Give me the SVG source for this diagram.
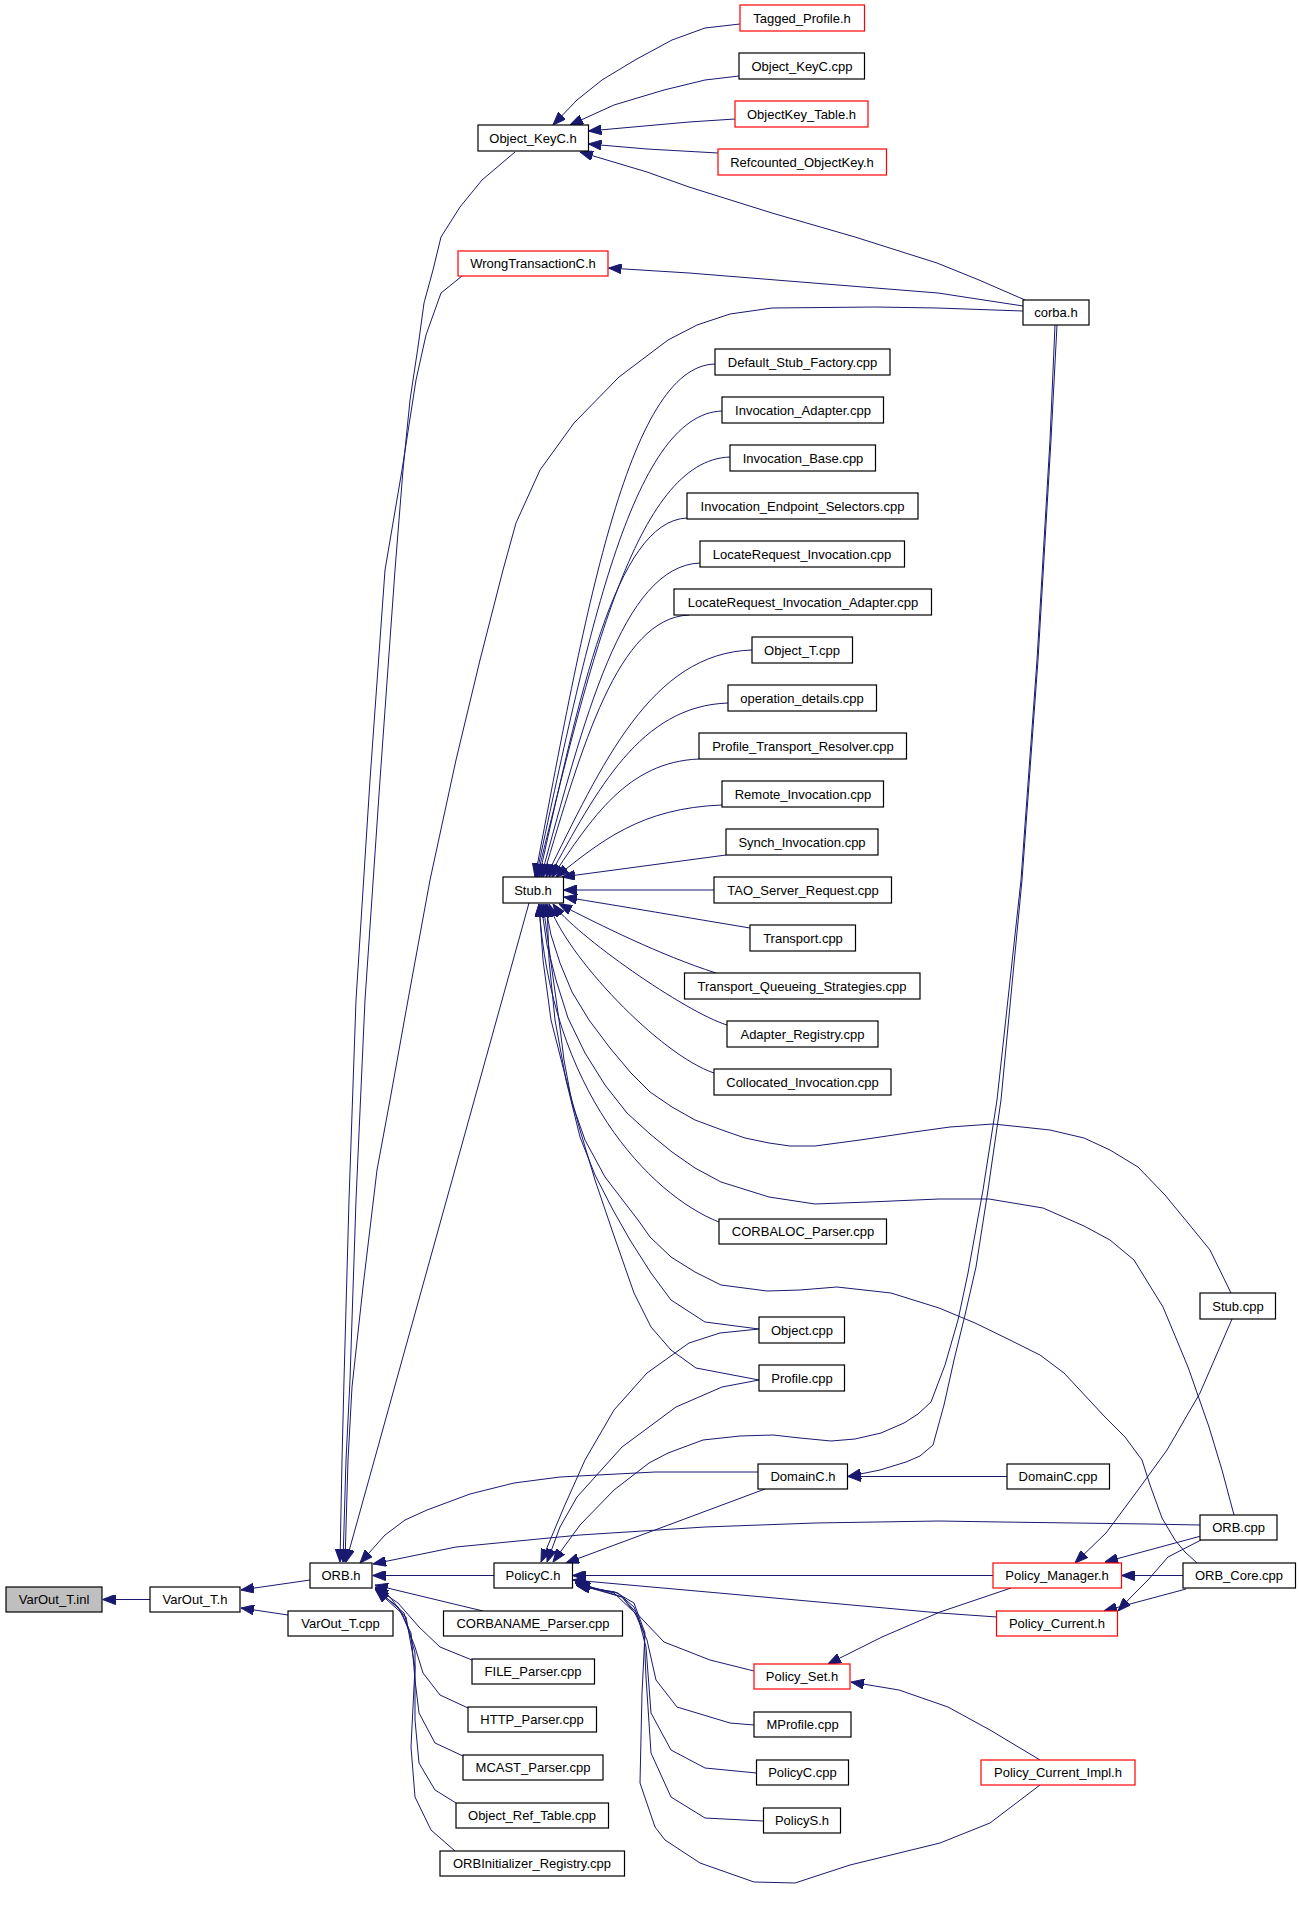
<svg xmlns="http://www.w3.org/2000/svg" width="1299" height="1921" viewBox="0 0 1299 1921">
<defs>
<marker id="a" viewBox="0 0 13 10" refX="13" refY="5" markerWidth="13" markerHeight="10" markerUnits="userSpaceOnUse" orient="auto"><path d="M0,0 L13,5 L0,10 z" fill="#191970" stroke="#191970" stroke-width="1"/></marker>
</defs>
<style>
.nd rect{fill:#fff;stroke:#000;stroke-width:1.2}
.nd.red rect{stroke:#ff0000}
.nd.cur rect{fill:#bfbfbf}
.nd text{font-family:"Liberation Sans",Arial,Helvetica,sans-serif;font-size:13px;text-anchor:middle;fill:#000}
#edges path{fill:none;stroke:#191970;stroke-width:1;stroke-linejoin:round;marker-end:url(#a)}
</style>
<rect x="0" y="0" width="1299" height="1921" fill="#fff"/>
<g id="edges">
<path d="M150,1599.5 L102.5,1599.5"/>
<path d="M310,1580 L241,1590"/>
<path d="M288,1615 L241,1608"/>
<path d="M494,1575.5 L372.5,1575.5"/>
<path d="M515,152 L482,180 L460,207 L441,237 L433,270 L424,303 L418,347 L410,400 L403,470 L395,570 L380,780 L365,1000 L356,1200 L350,1380 L346,1460 L343,1562"/>
<path d="M462,276 L441,293 L426,335 L416,380 L402,470 L385,570 L370,780 L356,1000 L349,1200 L344,1380 L342,1460 L340,1562"/>
<path d="M1023,311 L937,308 L875,307 L772,308 L730,314 L697,325 L668,340 L619,377 L574,423 L540,470 L516,523 L503,570 L480,660 L456,760 L430,880 L408,1000 L390,1100 L377,1170 L363,1287 L352,1387 L348,1460 L345,1562"/>
<path d="M529,903 L346,1562"/>
<path d="M758,1472 L655,1472 L560,1477 L514,1483 L470,1494 L427,1510 L405,1520 L385,1535 L360,1563"/>
<path d="M1200,1525 L1147,1524 L1001,1522 L939,1521 L815,1523 L705,1527 L580,1535 L456,1547 L373,1564"/>
<path d="M483,1611 L375,1585"/>
<path d="M472,1660 L440,1647 L419,1627 L398,1603 L375,1587"/>
<path d="M468,1708 L440,1695 L423,1673 L415,1647 L402,1613 L390,1597 L375,1588"/>
<path d="M463,1756 L435,1743 L419,1713 L415,1680 L411,1633 L398,1607 L375,1589"/>
<path d="M456,1803 L435,1790 L419,1763 L415,1720 L415,1653 L404,1613 L376,1589"/>
<path d="M455,1851 L431,1830 L415,1797 L411,1747 L415,1667 L406,1617 L376,1590"/>
<path d="M740,24 L705,28 L672,40 L635,60 L602,80 L577,100 L553,125"/>
<path d="M739,76 L705,80 L664,90 L614,105 L570,125"/>
<path d="M735,119 L689,122 L588.5,131"/>
<path d="M718,153 L647,149 L588.5,144"/>
<path d="M1025,300 L979,280 L937,263 L855,237 L772,213 L689,187 L647,172 L580,152"/>
<path d="M1023,306 L938,293 L813,283 L689,273 L608.5,268"/>
<path d="M1057,325 L1051,440 L1038,660 L1022,880 L1001,1100 L988,1190 L976,1267 L965,1315 L954,1360 L944,1405 L933,1445 L920,1456 L906,1462 L880,1470 L848,1476.5"/>
<path d="M1055,325 L1050,440 L1037,660 L1021,880 L997,1100 L983,1190 L968,1273 L958,1320 L945,1365 L931,1402 L918,1414 L904,1423 L881,1433 L855,1439 L831,1441 L800,1438 L773,1435 L740,1436 L703,1440 L668,1453 L649,1463 L614,1490 L580,1525 L553,1562"/>
<path d="M715,364 C627,366 584,620 535,877"/>
<path d="M722,411 C631,414 586,644 536,877"/>
<path d="M730,457 C635,460 589,668 537,877"/>
<path d="M687,518 C615,521 579,698 539,877"/>
<path d="M700,563 C622,566 584,720 541,877"/>
<path d="M689,615 C618,618 582,746 543,877"/>
<path d="M752,650 C651,653 602,764 546,877"/>
<path d="M728,703 C640,706 597,790 549,877"/>
<path d="M699,759 C627,762 592,818 552,877"/>
<path d="M722,805 C641,808 601,841 556,877"/>
<path d="M726,855 L562,877"/>
<path d="M714,890 L563.5,890"/>
<path d="M750,928 C690,918 620,906 564,897"/>
<path d="M716,973 C660,955 600,925 559,904"/>
<path d="M727,1025 C685,1012 575,935 553,904"/>
<path d="M714,1073 C660,1055 565,955 549,904"/>
<path d="M719,1222 C650,1195 550,1090 539,904"/>
<path d="M1231,1293 L1210,1250 L1188,1223 L1165,1195 L1138,1167 L1110,1150 L1084,1138 L1050,1130 L1022,1127 L993,1124 L950,1127 L914,1132 L860,1140 L815,1146 L790,1146 L769,1143 L745,1138 L722,1130 L695,1120 L672,1107 L650,1092 L631,1073 L610,1048 L589,1020 L572,992 L560,963 L551,935 L545,904"/>
<path d="M1234,1515 L1222,1470 L1209,1427 L1188,1367 L1163,1307 L1134,1260 L1110,1240 L1084,1226 L1043,1208 L989,1199 L939,1199 L869,1202 L815,1204 L769,1197 L721,1182 L695,1168 L672,1152 L650,1134 L627,1113 L605,1085 L585,1053 L568,1018 L556,980 L547,945 L541,904"/>
<path d="M1197,1563 L1185,1552 L1175,1540 L1162,1518 L1150,1485 L1142,1460 L1125,1437 L1105,1417 L1064,1373 L1040,1355 L1010,1340 L975,1323 L939,1308 L891,1293 L837,1287 L800,1290 L767,1291 L721,1285 L695,1272 L671,1257 L650,1237 L638,1220 L605,1177 L585,1140 L572,1103 L564,1060 L559,1020 L552,970 L543,904"/>
<path d="M759,1329 L705,1322 L671,1300 L651,1273 L630,1240 L613,1210 L595,1175 L580,1137 L566,1080 L555,1020 L549,960 L547,904"/>
<path d="M759,1380 L696,1368 L671,1350 L651,1327 L634,1293 L613,1233 L595,1180 L580,1130 L565,1075 L551,1020 L543,960 L539,904"/>
<path d="M1007,1476.5 L848,1476.5"/>
<path d="M759,1329 L720,1333 L689,1343 L647,1373 L614,1410 L585,1460 L564,1507 L541,1562"/>
<path d="M759,1380 L722,1387 L676,1407 L622,1447 L577,1497 L560,1527 L547,1562"/>
<path d="M765,1489 L663,1527 L566,1563"/>
<path d="M993,1575.5 L572.5,1575.5"/>
<path d="M997,1617 L940,1613 L730,1594 L573,1580"/>
<path d="M754,1671 L710,1660 L664,1642 L643,1620 L622,1597 L575,1582"/>
<path d="M754,1725 L730,1723 L677,1707 L656,1680 L647,1640 L635,1613 L614,1593 L575,1583"/>
<path d="M756.5,1773 L705,1768 L671,1750 L651,1713 L646,1647 L638,1617 L622,1597 L576,1584"/>
<path d="M763,1821 L705,1818 L671,1797 L651,1753 L646,1677 L644,1633 L634,1607 L618,1593 L576,1585"/>
<path d="M1040,1785 L990,1823 L940,1843 L850,1865 L795,1883 L754,1882 L700,1863 L665,1840 L655,1827 L640,1783 L642,1693 L645,1633 L634,1603 L615,1592 L577,1586"/>
<path d="M1183,1575.5 L1121.5,1575.5"/>
<path d="M1201,1536 L1105,1562"/>
<path d="M1232,1319 L1200,1393 L1167,1450 L1138,1490 L1106,1533 L1075,1563"/>
<path d="M1186,1589 L1104,1611"/>
<path d="M1201,1540 L1168,1557 L1148,1580 L1131,1597 L1118,1611"/>
<path d="M1011,1588 L940,1612 L882,1637 L828,1664"/>
<path d="M1040,1760 L990,1730 L948,1707 L899,1690 L851,1682"/>
</g>
<g id="n_VarOut_T_inl" class="nd cur"><rect x="6" y="1587" width="96" height="25"/><text x="54" y="1604">VarOut_T.inl</text></g>
<g id="n_VarOut_T_h" class="nd"><rect x="150" y="1587" width="90" height="25"/><text x="195" y="1604">VarOut_T.h</text></g>
<g id="n_ORB_h" class="nd"><rect x="310" y="1563" width="62" height="25"/><text x="341" y="1580">ORB.h</text></g>
<g id="n_VarOut_T_cpp" class="nd"><rect x="288" y="1611" width="105" height="25"/><text x="340.5" y="1628">VarOut_T.cpp</text></g>
<g id="n_PolicyC_h" class="nd"><rect x="494" y="1563" width="78.5" height="25"/><text x="533" y="1580">PolicyC.h</text></g>
<g id="n_CORBANAME_Parser_cpp" class="nd"><rect x="443.5" y="1611" width="179" height="25"/><text x="533" y="1628">CORBANAME_Parser.cpp</text></g>
<g id="n_FILE_Parser_cpp" class="nd"><rect x="472" y="1659" width="122.5" height="25"/><text x="533" y="1676">FILE_Parser.cpp</text></g>
<g id="n_HTTP_Parser_cpp" class="nd"><rect x="468" y="1707" width="128.5" height="25"/><text x="532" y="1724">HTTP_Parser.cpp</text></g>
<g id="n_MCAST_Parser_cpp" class="nd"><rect x="463" y="1755" width="140" height="25"/><text x="533" y="1772">MCAST_Parser.cpp</text></g>
<g id="n_Object_Ref_Table_cpp" class="nd"><rect x="456" y="1803" width="152.5" height="25"/><text x="532" y="1820">Object_Ref_Table.cpp</text></g>
<g id="n_ORBInitializer_Registry_cpp" class="nd"><rect x="440" y="1851" width="184.5" height="25"/><text x="532" y="1868">ORBInitializer_Registry.cpp</text></g>
<g id="n_Policy_Set_h" class="nd red"><rect x="754" y="1664" width="96" height="25"/><text x="802" y="1681">Policy_Set.h</text></g>
<g id="n_MProfile_cpp" class="nd"><rect x="754" y="1712" width="97" height="25"/><text x="802.5" y="1729">MProfile.cpp</text></g>
<g id="n_PolicyC_cpp" class="nd"><rect x="756.5" y="1760" width="92" height="25"/><text x="802.5" y="1777">PolicyC.cpp</text></g>
<g id="n_PolicyS_h" class="nd"><rect x="763.5" y="1808" width="77" height="25"/><text x="802" y="1825">PolicyS.h</text></g>
<g id="n_Policy_Current_Impl_h" class="nd red"><rect x="981" y="1760" width="154" height="25"/><text x="1058" y="1777">Policy_Current_Impl.h</text></g>
<g id="n_Policy_Manager_h" class="nd red"><rect x="993" y="1563" width="128.5" height="25"/><text x="1057" y="1580">Policy_Manager.h</text></g>
<g id="n_Policy_Current_h" class="nd red"><rect x="996.5" y="1611" width="121" height="25"/><text x="1057" y="1628">Policy_Current.h</text></g>
<g id="n_ORB_cpp" class="nd"><rect x="1200" y="1515" width="77" height="25"/><text x="1238.5" y="1532">ORB.cpp</text></g>
<g id="n_ORB_Core_cpp" class="nd"><rect x="1183" y="1563" width="112.5" height="25"/><text x="1239" y="1580">ORB_Core.cpp</text></g>
<g id="n_DomainC_h" class="nd"><rect x="758" y="1464" width="89.5" height="25"/><text x="803" y="1481">DomainC.h</text></g>
<g id="n_DomainC_cpp" class="nd"><rect x="1007" y="1464" width="102.5" height="25"/><text x="1058" y="1481">DomainC.cpp</text></g>
<g id="n_Object_cpp" class="nd"><rect x="759" y="1317" width="85.5" height="26"/><text x="802" y="1334.5">Object.cpp</text></g>
<g id="n_Profile_cpp" class="nd"><rect x="759" y="1365" width="85.5" height="26"/><text x="802" y="1382.5">Profile.cpp</text></g>
<g id="n_Stub_cpp" class="nd"><rect x="1200" y="1293" width="75.5" height="26"/><text x="1238" y="1310.5">Stub.cpp</text></g>
<g id="n_CORBALOC_Parser_cpp" class="nd"><rect x="719" y="1219" width="167.5" height="25"/><text x="803" y="1236">CORBALOC_Parser.cpp</text></g>
<g id="n_Collocated_Invocation_cpp" class="nd"><rect x="714" y="1069" width="177" height="26"/><text x="802.5" y="1086.5">Collocated_Invocation.cpp</text></g>
<g id="n_Adapter_Registry_cpp" class="nd"><rect x="727" y="1021" width="151" height="26"/><text x="802.5" y="1038.5">Adapter_Registry.cpp</text></g>
<g id="n_Transport_Queueing_Strategies_cpp" class="nd"><rect x="684.5" y="973" width="235.5" height="26"/><text x="802" y="990.5">Transport_Queueing_Strategies.cpp</text></g>
<g id="n_Transport_cpp" class="nd"><rect x="750" y="925" width="105.5" height="26"/><text x="803" y="942.5">Transport.cpp</text></g>
<g id="n_TAO_Server_Request_cpp" class="nd"><rect x="714" y="877" width="177.5" height="26"/><text x="803" y="894.5">TAO_Server_Request.cpp</text></g>
<g id="n_Stub_h" class="nd"><rect x="503" y="877" width="60.5" height="26"/><text x="533" y="894.5">Stub.h</text></g>
<g id="n_Synch_Invocation_cpp" class="nd"><rect x="726" y="829" width="152" height="26"/><text x="802" y="846.5">Synch_Invocation.cpp</text></g>
<g id="n_Remote_Invocation_cpp" class="nd"><rect x="722" y="781" width="161.5" height="26"/><text x="803" y="798.5">Remote_Invocation.cpp</text></g>
<g id="n_Profile_Transport_Resolver_cpp" class="nd"><rect x="699" y="733" width="207.5" height="26"/><text x="803" y="750.5">Profile_Transport_Resolver.cpp</text></g>
<g id="n_operation_details_cpp" class="nd"><rect x="728" y="685" width="148.5" height="26"/><text x="802" y="702.5">operation_details.cpp</text></g>
<g id="n_Object_T_cpp" class="nd"><rect x="752" y="637" width="100.5" height="26"/><text x="802" y="654.5">Object_T.cpp</text></g>
<g id="n_LocateRequest_Invocation_Adapter_cpp" class="nd"><rect x="674" y="589" width="257.5" height="26"/><text x="803" y="606.5">LocateRequest_Invocation_Adapter.cpp</text></g>
<g id="n_LocateRequest_Invocation_cpp" class="nd"><rect x="700" y="541" width="204.5" height="26"/><text x="802" y="558.5">LocateRequest_Invocation.cpp</text></g>
<g id="n_Invocation_Endpoint_Selectors_cpp" class="nd"><rect x="687" y="493" width="231" height="26"/><text x="802.5" y="510.5">Invocation_Endpoint_Selectors.cpp</text></g>
<g id="n_Invocation_Base_cpp" class="nd"><rect x="730" y="445" width="145.5" height="26"/><text x="803" y="462.5">Invocation_Base.cpp</text></g>
<g id="n_Invocation_Adapter_cpp" class="nd"><rect x="722" y="397" width="161.5" height="26"/><text x="803" y="414.5">Invocation_Adapter.cpp</text></g>
<g id="n_Default_Stub_Factory_cpp" class="nd"><rect x="715" y="349" width="175" height="26"/><text x="802.5" y="366.5">Default_Stub_Factory.cpp</text></g>
<g id="n_corba_h" class="nd"><rect x="1023" y="300" width="66" height="25"/><text x="1056" y="317">corba.h</text></g>
<g id="n_WrongTransactionC_h" class="nd red"><rect x="458" y="251" width="150" height="25"/><text x="533" y="268">WrongTransactionC.h</text></g>
<g id="n_Object_KeyC_h" class="nd"><rect x="478" y="125" width="110.5" height="26"/><text x="533" y="142.5">Object_KeyC.h</text></g>
<g id="n_Tagged_Profile_h" class="nd red"><rect x="740" y="5" width="124.5" height="26"/><text x="802" y="22.5">Tagged_Profile.h</text></g>
<g id="n_Object_KeyC_cpp" class="nd"><rect x="739" y="53" width="125.5" height="26"/><text x="802" y="70.5">Object_KeyC.cpp</text></g>
<g id="n_ObjectKey_Table_h" class="nd red"><rect x="735" y="101" width="133" height="26"/><text x="801.5" y="118.5">ObjectKey_Table.h</text></g>
<g id="n_Refcounted_ObjectKey_h" class="nd red"><rect x="718" y="149" width="168.5" height="26"/><text x="802" y="166.5">Refcounted_ObjectKey.h</text></g>
</svg>
